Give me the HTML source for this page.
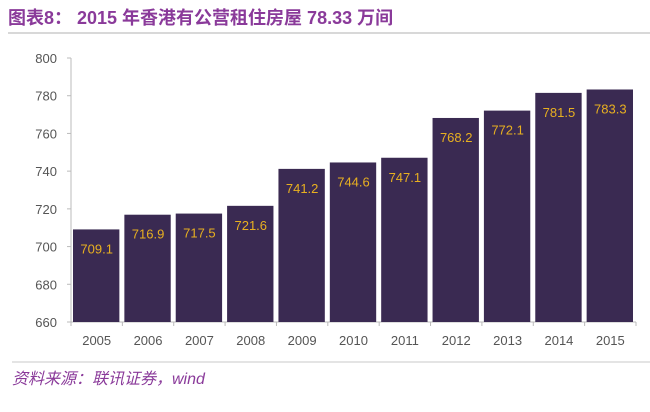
<!DOCTYPE html>
<html><head><meta charset="utf-8"><style>
body{margin:0;background:#fff;width:650px;height:407px;overflow:hidden;font-family:"Liberation Sans","Noto Sans CJK SC",sans-serif}
</style></head><body>
<svg width="650" height="407">
<text x="8" y="24" font-size="18" font-weight="bold" fill="#8a3a9a" font-family="Liberation Sans, Noto Sans CJK SC, sans-serif">图表8：  2015 年香港有公营租住房屋 78.33 万间</text>
<line x1="8" y1="33" x2="650" y2="33" stroke="#d8d8d8" stroke-width="2"/>
<g id="yaxis"></g>
<g id="xaxis"></g>
<g id="bars"></g>
<line x1="12" y1="362" x2="650" y2="362" stroke="#dcdcdc" stroke-width="1.5"/>
<text x="12" y="384" font-size="16" font-style="italic" fill="#8a3a9a">资料来源：联讯证券，wind</text>
</svg>
<script>
const categories=["2005","2006","2007","2008","2009","2010","2011","2012","2013","2014","2015"];
const values=[709.1,716.9,717.5,721.6,741.2,744.6,747.1,768.2,772.1,781.5,783.3];
const yTicks=[660,680,700,720,740,760,780,800];
const NS="http://www.w3.org/2000/svg";
const x0=71,x1=636,yTop=58,yBot=322,ymin=660,ymax=800;
const bw=(x1-x0)/categories.length;
function y(v){return yBot-(v-ymin)/(ymax-ymin)*(yBot-yTop);}
function mk(t,a,p){const e=document.createElementNS(NS,t);for(const k in a)e.setAttribute(k,a[k]);p.appendChild(e);return e;}
const ya=document.getElementById('yaxis'),xa=document.getElementById('xaxis'),bg=document.getElementById('bars');
mk('line',{x1:x0,y1:yTop,x2:x0,y2:yBot,stroke:'#bbb'},ya);
yTicks.forEach(t=>{
 mk('line',{x1:x0-4,y1:y(t),x2:x0,y2:y(t),stroke:'#bbb'},ya);
 const tx=mk('text',{x:x0-14,y:y(t)+5,'text-anchor':'end','font-size':13,fill:'#555'},ya);
 
 
 tx.textContent=t;
});
mk('line',{x1:x0,y1:yBot,x2:x1,y2:yBot,stroke:'#bbb'},xa);
categories.forEach((c,i)=>{
 const cx=x0+bw*(i+0.5);
 mk('line',{x1:x0+bw*i,y1:yBot,x2:x0+bw*i,y2:yBot+4,stroke:'#bbb'},xa);
 const tx=mk('text',{x:cx,y:yBot+23,'text-anchor':'middle','font-size':13,fill:'#555'},xa);
 
 
 tx.textContent=c;
 const v=values[i];
 const r=mk('rect',{x:x0+bw*i+2,y:y(v),width:bw-5,height:yBot-y(v),fill:'#3a2a52'},bg);
 
 
 const lb=mk('text',{x:cx,y:y(v)+24,'text-anchor':'middle','font-size':13,fill:'#e8b020'},bg);
 
 
 lb.textContent=v.toFixed(1);
});
mk('line',{x1:x1,y1:yBot,x2:x1,y2:yBot+4,stroke:'#bbb'},xa);
</script>
</body></html>
